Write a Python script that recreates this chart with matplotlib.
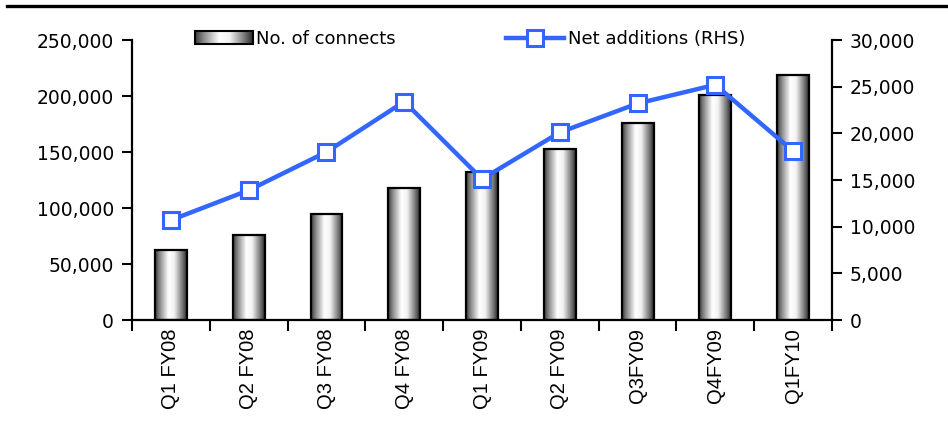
import numpy as np
import matplotlib.pyplot as plt
from matplotlib.colors import LinearSegmentedColormap
from matplotlib.legend_handler import HandlerBase
from matplotlib.image import BboxImage
from matplotlib.transforms import Bbox, TransformedBbox
from matplotlib.patches import Rectangle
from matplotlib.lines import Line2D
from matplotlib.ticker import FuncFormatter

quarters = ['Q1 FY08', 'Q2 FY08', 'Q3 FY08', 'Q4 FY08', 'Q1 FY09',
            'Q2 FY09', 'Q3FY09', 'Q4FY09', 'Q1FY10']
connects = [62500, 75900, 94600, 117800, 132000, 152700, 175900, 200900, 218800]
net_additions = [10700, 13900, 18000, 23400, 15100, 20100, 23200, 25200, 18100]

# dark - white - dark, like a shaded cylinder
grad_cmap = LinearSegmentedColormap.from_list(
    'cyl', [(0.0, '#3a3a3a'), (0.15, '#8a8a8a'), (0.42, '#ffffff'),
            (0.6, '#f2f2f2'), (0.85, '#7a7a7a'), (1.0, '#2a2a2a')])
grad = np.linspace(0, 1, 256).reshape(1, -1)

label_font = 'DejaVu Sans'
tick_font = 'Liberation Sans'
blue = '#3366ff'


class GradientHandler(HandlerBase):
    def create_artists(self, legend, orig_handle, xdescent, ydescent,
                       width, height, fontsize, trans):
        box = Bbox.from_bounds(-xdescent, -ydescent, width, height)
        im = BboxImage(TransformedBbox(box, trans), cmap=grad_cmap,
                       interpolation='bilinear')
        im.set_data(grad)
        edge = Rectangle((-xdescent, -ydescent), width, height, fill=False,
                         edgecolor='black', linewidth=1.5, transform=trans)
        return [im, edge]


fig = plt.figure(figsize=(9.48, 4.25), dpi=100)
ax = fig.add_axes([132 / 948, 105 / 425, 700 / 948, 280 / 425])
ax2 = ax.twinx()

x = np.arange(len(quarters))
bars = ax.bar(x, connects, width=0.41, facecolor='none', edgecolor='black',
              linewidth=1.6, zorder=3)
for b in bars:
    x0, y0 = b.get_x(), b.get_y()
    w, h = b.get_width(), b.get_height()
    im = ax.imshow(grad, cmap=grad_cmap, aspect='auto', extent=(x0, x0 + w, y0, y0 + h),
                   interpolation='bilinear', zorder=2)
    im.set_clip_path(b)

ax.set_xlim(-0.5, len(quarters) - 0.5)
ax.set_ylim(0, 250000)
ax.set_yticks(np.arange(0, 250001, 50000))
ax2.set_ylim(0, 30000)
ax2.set_yticks(np.arange(0, 30001, 5000))

fmt = FuncFormatter(lambda v, p: f'{int(v):,}')
ax.yaxis.set_major_formatter(fmt)
ax2.yaxis.set_major_formatter(fmt)

line, = ax2.plot(x, net_additions, color=blue, linewidth=3.2, marker='s',
                 markersize=12, markerfacecolor='white', markeredgecolor=blue,
                 markeredgewidth=2.2, zorder=5)

# category boundary ticks, labels in the middle
ax.set_xticks(np.arange(-0.5, len(quarters), 1.0))
ax.set_xticklabels([])
ax.set_xticks(x, minor=True)
ax.set_xticklabels(quarters, minor=True, rotation=90, fontsize=14.5, family=tick_font)
ax.tick_params(axis='x', which='major', direction='out', length=8, width=1.5)
ax.tick_params(axis='x', which='minor', length=0, pad=6)
ax.tick_params(axis='y', direction='out', length=7, width=1.5, labelsize=13.5, pad=6)
ax2.tick_params(axis='y', direction='out', length=7, width=1.5, labelsize=13.5, pad=6)
for lab in ax.get_yticklabels() + ax2.get_yticklabels():
    lab.set_family(label_font)

for a in (ax, ax2):
    a.spines['top'].set_visible(False)
    for s in ('left', 'right', 'bottom'):
        a.spines[s].set_linewidth(1.6)
ax.spines['right'].set_visible(False)
ax2.spines['left'].set_visible(False)
ax2.spines['bottom'].set_visible(False)

bar_handle = Rectangle((0, 0), 1, 1)
leg = ax2.legend([bar_handle, line], ['No. of connects', 'Net additions (RHS)'],
                 handler_map={Rectangle: GradientHandler()},
                 loc='upper left', bbox_to_anchor=(195 / 948, 395 / 425),
                 bbox_transform=fig.transFigure, ncol=2, frameon=False,
                 borderpad=0, borderaxespad=0, handlelength=3.2, handleheight=0.75,
                 handletextpad=0.2, columnspacing=6.1,
                 prop={'family': label_font, 'size': 13})

# heavy rule at the top of the page
fig.add_artist(Line2D([7 / 948, 1.0], [419 / 425, 419 / 425], color='black',
                      linewidth=2.4, transform=fig.transFigure))

fig.savefig('out.png', dpi=100)
